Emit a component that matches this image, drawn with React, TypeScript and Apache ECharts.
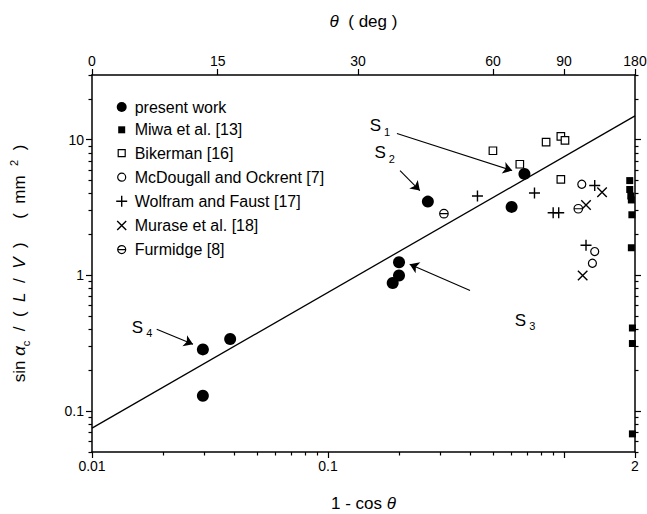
import React, { useEffect, useRef } from 'react';
import * as echarts from 'echarts';

// ---- data (x = 1 - cos θ, y = sin αc / (L/V) in mm^2) ----
const presentX = [0.0295, 0.0385, 0.0295, 0.2, 0.2, 0.188, 0.265, 0.68, 0.6];
const presentY = [0.285, 0.34, 0.13, 1.25, 1.0, 0.88, 3.5, 5.6, 3.2];
const miwaX = [1.9, 1.9, 1.92, 1.93, 1.94, 1.93, 1.95, 1.95, 1.95];
const miwaY = [5.0, 4.3, 3.85, 3.6, 2.8, 1.6, 0.41, 0.315, 0.068];
const bikermanX = [0.5, 0.65, 0.84, 0.97, 1.01, 0.97];
const bikermanY = [8.3, 6.6, 9.6, 10.6, 9.9, 5.1];
const mcdougallX = [1.19, 1.35, 1.32];
const mcdougallY = [4.7, 1.5, 1.23];
const wolframX = [0.43, 0.75, 0.9, 0.95, 1.35, 1.24];
const wolframY = [3.85, 4.05, 2.9, 2.9, 4.6, 1.67];
const muraseX = [1.45, 1.24, 1.2];
const muraseY = [4.1, 3.3, 1.0];
const furmidgeX = [0.31, 1.15];
const furmidgeY = [2.85, 3.1];
const fitX = [0.01, 2];
const fitY = [0.075, 15];

// ---- axes ticks / labels ----
const xLabelVals = [0.01, 0.1, 2];
const xMajorTicks = [0.01, 0.1, 1, 2];
const xMinorTicks = [0.02, 0.03, 0.04, 0.05, 0.06, 0.07, 0.08, 0.09, 0.2, 0.3, 0.4, 0.5, 0.6, 0.7, 0.8, 0.9];
const yLabelVals = [0.1, 1, 10];
const yMinorTicks = [0.05, 0.06, 0.07, 0.08, 0.09, 0.2, 0.3, 0.4, 0.5, 0.6, 0.7, 0.8, 0.9, 2, 3, 4, 5, 6, 7, 8, 9, 20, 30];
const thetaTickX = [0.01, 0.0341, 0.134, 0.5, 1, 2];
const thetaLabels = ['0', '15', '30', '60', '90', '180'];

// ---- annotations ----
const annoNames = ['1', '2', '3', '4'];
const annoX = [0.166, 0.174, 0.684, 0.0163];
const annoY = [12.7, 8.0, 0.468, 0.415];
const arrowFrom = [[0.196, 11.1], [0.202, 5.93], [0.40, 0.776], [0.0188, 0.402]];
const arrowTo = [[0.603, 5.93], [0.245, 4.22], [0.222, 1.21], [0.0268, 0.311]];

const legendNames = [
  'present work',
  'Miwa et al. [13]',
  'Bikerman [16]',
  'McDougall and Ockrent [7]',
  'Wolfram and Faust [17]',
  'Murase et al. [18]',
  'Furmidge [8]',
];

const FONT = "'Liberation Sans', Arial, Helvetica, sans-serif";
const BLACK = '#000';
const NONE = 'rgba(0,0,0,0)';

const PLUS = 'path://M0,6H12M6,0V12';
const CROSS = 'path://M0,0L10,10M10,0L0,10';
const FURM = 'path://M10,5A5,5,0,1,1,0,5A5,5,0,1,1,10,5ZM0,5H10';

const legendIcons = [
  'path://M0,0M16,16M13,8A5,5,0,1,1,3,8A5,5,0,1,1,13,8Z',
  'path://M0,0M16,16M4.5,4.5H11.5V11.5H4.5Z',
  'path://M0,0M16,16M4.5,4.5H11.5V11.5H4.5Z',
  'path://M0,0M16,16M12,8A4,4,0,1,1,4,8A4,4,0,1,1,12,8Z',
  'path://M0,0M16,16M2.5,8H13.5M8,2.5V13.5',
  'path://M0,0M16,16M3.5,3.5L12.5,12.5M12.5,3.5L3.5,12.5',
  'path://M0,0M16,16M12,8A4,4,0,1,1,4,8A4,4,0,1,1,12,8ZM4,8H12',
];
const legendBorder = [0, 0, 1.2, 1.2, 1.4, 1.4, 1.2];

const pts = (xs: number[], ys: number[]) => xs.map((x, i) => [x, ys[i]]);
const fmtNum = (v: number) => String(+Number(v).toPrecision(3));
const thetaFmt = (v: number) => {
  let best = 0;
  let bd = Infinity;
  thetaTickX.forEach((t, i) => {
    const d = Math.abs(Math.log(v / t));
    if (d < bd) { bd = d; best = i; }
  });
  return thetaLabels[best];
};

const lineStyle = { color: BLACK, width: 1.5 };
const tickStyle = { color: BLACK, width: 1.2 };
const labelBase = { color: BLACK, fontSize: 14, fontFamily: FONT };
const nameStyle = {
  color: BLACK,
  fontSize: 17,
  fontFamily: FONT,
  rich: {
    i: { fontSize: 17, fontStyle: 'italic', fontFamily: FONT, color: BLACK },
    a: { fontSize: 17, fontStyle: 'italic', fontFamily: FONT, color: BLACK },
    sub: { fontSize: 11, fontFamily: FONT, color: BLACK, padding: [12, 0, 0, 0] },
    sup: { fontSize: 11, fontFamily: FONT, color: BLACK, padding: [0, 0, 12, 0] },
  },
};

function logAxis(extra: any, min: number, max: number) {
  return {
    type: 'log',
    logBase: 10,
    min,
    max,
    splitLine: { show: false },
    minorSplitLine: { show: false },
    axisPointer: { show: false },
    ...extra,
  };
}

const solid = (color: string) => ({ color, opacity: 1 });
const outlined = (fill: string, w: number) => ({ color: fill, borderColor: BLACK, borderWidth: w, opacity: 1 });

const option: any = {
  animation: false,
  backgroundColor: '#fff',
  textStyle: { fontFamily: FONT, color: BLACK },
  grid: { left: 92, right: 12, top: 75, bottom: 62, containLabel: false, outerBoundsMode: 'none' },
  legend: {
    show: true,
    orient: 'vertical',
    left: 108,
    top: 94,
    itemWidth: 16,
    itemHeight: 16,
    itemGap: 6.8,
    selectedMode: false,
    textStyle: { fontSize: 16, color: BLACK, fontFamily: FONT },
    data: legendNames.map((n, i) => ({
      name: n,
      icon: legendIcons[i],
      itemStyle: { borderWidth: legendBorder[i], borderColor: BLACK, opacity: 1 },
    })),
  },
  xAxis: [
    logAxis({
      position: 'bottom',
      axisLine: { show: true, lineStyle },
      axisTick: { show: true, length: 6, lineStyle: tickStyle, customValues: xMajorTicks },
      axisLabel: { show: true, ...labelBase, margin: 7, customValues: xLabelVals, formatter: fmtNum },
      name: '1 - cos {i|θ}',
      nameLocation: 'middle',
      nameGap: 43,
      nameTextStyle: nameStyle,
    }, 0.01, 2),
    logAxis({
      position: 'bottom',
      axisLine: { show: false },
      axisTick: { show: true, length: 3.5, lineStyle: tickStyle, customValues: xMinorTicks },
      axisLabel: { show: false },
    }, 0.01, 2),
    logAxis({
      position: 'top',
      axisLine: { show: true, lineStyle },
      axisTick: { show: true, length: 6, lineStyle: tickStyle, customValues: thetaTickX },
      axisLabel: { show: true, ...labelBase, margin: 7, customValues: thetaTickX, formatter: thetaFmt },
      name: '{i|θ}  ( deg )',
      nameLocation: 'middle',
      nameGap: 45,
      nameTextStyle: nameStyle,
    }, 0.01, 2),
  ],
  yAxis: [
    logAxis({
      position: 'left',
      axisLine: { show: true, lineStyle },
      axisTick: { show: true, length: 6, lineStyle: tickStyle, customValues: yLabelVals },
      axisLabel: { show: true, ...labelBase, margin: 8, customValues: yLabelVals, formatter: fmtNum },
      name: 'sin {a|α}{sub|c}  /  (  {i|L}  /  {i|V}  )     (  mm  {sup|2}  )',
      nameLocation: 'middle',
      nameGap: 61,
      nameTextStyle: nameStyle,
    }, 0.05, 30),
    logAxis({
      position: 'left',
      axisLine: { show: false },
      axisTick: { show: true, length: 3.5, lineStyle: tickStyle, customValues: yMinorTicks },
      axisLabel: { show: false },
    }, 0.05, 30),
    logAxis({
      position: 'right',
      axisLine: { show: true, lineStyle },
      axisTick: { show: true, length: 6, lineStyle: tickStyle, customValues: yLabelVals },
      axisLabel: { show: false },
    }, 0.05, 30),
    logAxis({
      position: 'right',
      axisLine: { show: false },
      axisTick: { show: true, length: 3.5, lineStyle: tickStyle, customValues: yMinorTicks },
      axisLabel: { show: false },
    }, 0.05, 30),
  ],
  series: [
    {
      type: 'line',
      name: 'fit',
      data: pts(fitX, fitY),
      symbol: 'none',
      lineStyle: { color: BLACK, width: 1.3, opacity: 1 },
      silent: true,
      z: 1,
    },
    {
      type: 'scatter', name: legendNames[0], data: pts(presentX, presentY),
      symbol: 'circle', symbolSize: 12, itemStyle: solid(BLACK), silent: true, z: 3,
    },
    {
      type: 'scatter', name: legendNames[1], data: pts(miwaX, miwaY),
      symbol: 'rect', symbolSize: 7, itemStyle: solid(BLACK), silent: true, z: 3,
    },
    {
      type: 'scatter', name: legendNames[2], data: pts(bikermanX, bikermanY),
      symbol: 'rect', symbolSize: 7.5, itemStyle: outlined('#fff', 1.2), silent: true, z: 3,
    },
    {
      type: 'scatter', name: legendNames[3], data: pts(mcdougallX, mcdougallY),
      symbol: 'circle', symbolSize: 8, itemStyle: outlined('#fff', 1.2), silent: true, z: 3,
    },
    {
      type: 'scatter', name: legendNames[4], data: pts(wolframX, wolframY),
      symbol: PLUS, symbolSize: 11, itemStyle: outlined(NONE, 1.4), silent: true, z: 3,
    },
    {
      type: 'scatter', name: legendNames[5], data: pts(muraseX, muraseY),
      symbol: CROSS, symbolSize: 9.5, itemStyle: outlined(NONE, 1.4), silent: true, z: 3,
    },
    {
      type: 'scatter', name: legendNames[6], data: pts(furmidgeX, furmidgeY),
      symbol: FURM, symbolSize: 8.5, itemStyle: outlined('#fff', 1.2), silent: true, z: 3,
    },
    {
      type: 'lines',
      name: 'arrows',
      coordinateSystem: 'cartesian2d',
      symbol: ['none', 'arrow'],
      symbolSize: [0, 9],
      lineStyle: { color: BLACK, width: 1.1, opacity: 1 },
      data: arrowFrom.map((f, i) => ({ coords: [f, arrowTo[i]] })),
      silent: true,
      z: 4,
    },
    {
      type: 'scatter',
      name: 'labels',
      symbol: 'circle',
      symbolSize: 1,
      itemStyle: { color: NONE, opacity: 1 },
      data: annoX.map((x, i) => ({ value: [x, annoY[i]], name: annoNames[i] })),
      label: {
        show: true,
        position: 'inside',
        color: BLACK,
        opacity: 1,
        textBorderWidth: 0,
        formatter: (p: any) => `{s|S}{sub| ${p.name}}`,
        rich: {
          s: { fontSize: 17, fontFamily: FONT, color: BLACK, opacity: 1 },
          sub: { fontSize: 11, fontFamily: FONT, color: BLACK, opacity: 1, padding: [12, 0, 0, 0] },
        },
      },
      silent: true,
      z: 4,
    },
  ],
};

export default function App() {
  const ref = useRef<HTMLDivElement>(null);
  useEffect(() => {
    if (!ref.current) return;
    const chart = echarts.init(ref.current, null, { renderer: 'svg' });
    chart.setOption(option);
    return () => chart.dispose();
  }, []);
  return (
    <div
      ref={ref}
      style={{ position: 'fixed', left: 0, top: 0, width: 647, height: 514, background: '#fff' }}
    />
  );
}
